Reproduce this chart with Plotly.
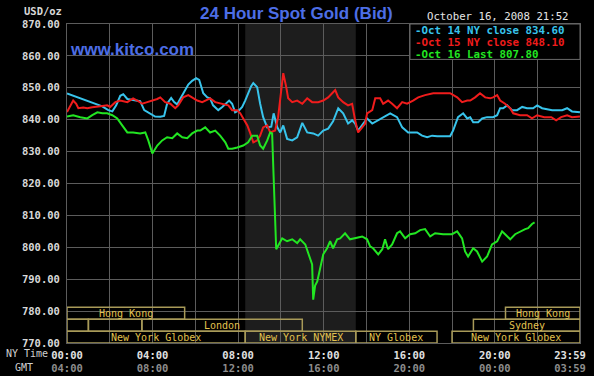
import plotly.graph_objects as go

# ---------------- data (hours after NY midnight, USD/oz) ----------------
oct14_hours = [0.00,0.25,0.53,0.81,1.09,1.37,1.65,1.93,2.12,2.30,2.49,2.63,2.82,3.09,3.42,3.61,3.89,4.12,4.36,4.54,4.68,4.87,5.01,5.15,5.29,5.48,5.67,5.85,6.04,6.18,6.37,6.56,6.69,6.83,7.07,7.26,7.44,7.58,7.72,7.86,8.05,8.19,8.33,8.47,8.61,8.71,8.89,9.03,9.17,9.36,9.55,9.66,9.83,9.97,10.11,10.29,10.53,10.76,11.00,11.23,11.51,11.74,11.98,12.21,12.44,12.68,12.91,13.14,13.33,13.47,13.61,13.85,14.03,14.27,14.55,14.78,15.11,15.43,15.67,15.95,16.37,16.60,16.84,17.07,17.31,17.91,18.05,18.28,18.52,18.71,18.85,18.99,19.22,19.41,19.64,19.92,20.11,20.25,20.39,20.58,20.81,21.04,21.28,21.51,21.79,21.98,22.21,22.68,23.15,23.38,23.61,23.98]
oct14_price = [848.2,847.6,847.0,846.3,845.6,845.0,844.2,843.0,842.6,844.5,847.5,848.0,846.5,846.2,845.8,843.0,841.8,841.0,840.9,841.2,845.0,846.8,845.5,844.8,846.5,849.0,851.0,852.2,853.0,852.5,848.3,847.0,846.7,844.5,843.0,844.0,845.0,846.0,845.0,842.3,843.0,844.0,846.0,848.3,850.5,851.5,850.2,845.0,840.8,837.6,837.8,842.0,837.6,836.0,838.2,834.0,833.5,834.5,839.0,836.0,835.7,835.0,836.6,837.2,839.5,843.6,842.0,838.8,839.8,838.8,836.6,838.8,840.4,838.8,839.8,840.8,842.0,840.8,837.6,836.0,836.0,835.0,834.5,835.0,834.8,834.8,836.6,840.8,842.0,840.4,840.8,839.2,839.2,840.4,840.8,840.8,841.4,843.6,843.6,844.5,843.0,843.0,844.0,843.6,843.6,844.5,843.6,843.0,843.0,843.6,842.6,842.3]

oct15_hours = [0.00,0.15,0.29,0.43,0.53,0.76,0.95,1.18,1.42,1.65,1.88,2.02,2.26,2.49,2.82,3.09,3.33,3.52,3.75,4.03,4.22,4.36,4.59,4.83,5.06,5.20,5.43,5.67,5.90,6.09,6.32,6.51,6.69,6.93,7.26,7.54,7.72,7.96,8.10,8.24,8.43,8.57,8.71,8.89,9.03,9.17,9.36,9.50,9.73,9.87,10.01,10.11,10.25,10.34,10.53,10.76,11.00,11.23,11.46,11.74,11.98,12.21,12.44,12.54,12.68,12.91,13.14,13.33,13.47,13.61,13.80,13.94,14.03,14.27,14.41,14.64,14.78,15.01,15.20,15.43,15.67,15.90,16.18,16.42,16.74,17.12,17.44,17.91,18.24,18.47,18.71,18.85,19.08,19.31,19.55,19.78,19.92,20.11,20.25,20.48,20.72,20.86,21.18,21.51,21.74,21.98,22.31,22.64,22.87,23.10,23.38,23.61,23.98]
oct15_price = [842.4,844.5,846.0,845.0,843.6,843.8,843.6,843.9,844.0,844.3,844.5,844.0,845.5,846.0,845.5,846.7,845.8,845.0,845.5,846.0,846.5,847.0,845.5,845.0,843.6,844.5,847.0,847.7,846.7,846.0,845.5,846.2,846.7,845.5,845.0,844.5,843.0,843.0,842.0,840.4,838.2,835.7,832.9,833.5,835.0,837.6,838.2,836.0,836.6,840.8,848.3,854.6,850.2,846.7,845.5,846.0,845.0,846.7,845.5,845.5,846.0,847.0,848.6,849.3,847.0,845.5,844.5,845.0,839.8,836.0,837.6,838.8,842.0,843.0,846.7,846.7,845.0,846.0,845.0,843.6,845.5,845.0,846.0,847.0,847.7,848.3,848.3,848.3,847.0,845.5,846.0,846.0,847.0,848.3,847.0,846.7,847.0,847.7,846.0,845.0,843.6,842.0,841.4,841.4,840.4,841.4,840.8,840.8,839.8,840.8,841.4,840.8,841.0]

oct16_hours = [0.00,0.29,0.62,0.95,1.18,1.42,1.65,1.88,2.12,2.35,2.58,2.82,3.09,3.42,3.66,3.80,3.99,4.22,4.45,4.68,4.92,5.15,5.39,5.62,5.85,6.09,6.23,6.46,6.69,6.93,7.16,7.40,7.54,7.72,7.96,8.24,8.47,8.66,8.89,9.03,9.17,9.36,9.50,9.59,9.65,9.70,9.78,9.87,10.06,10.29,10.53,10.76,10.90,11.14,11.28,11.46,11.51,11.60,11.70,11.84,11.98,12.16,12.30,12.44,12.63,12.77,13.00,13.23,13.47,13.80,14.03,14.17,14.31,14.55,14.74,14.87,15.01,15.20,15.43,15.57,15.81,16.04,16.28,16.51,16.74,16.98,17.21,17.58,18.00,18.24,18.47,18.61,18.75,18.99,19.17,19.41,19.64,19.87,20.11,20.34,20.48,20.72,20.95,21.18,21.42,21.56,21.74,21.86]
oct16_price = [841.0,841.4,840.8,840.4,841.4,842.3,842.0,842.0,841.4,840.4,838.2,836.0,836.0,835.7,836.0,833.5,829.4,831.9,833.5,834.5,834.2,835.7,834.5,834.2,835.7,836.6,836.6,837.6,836.0,836.6,835.0,832.9,830.9,830.9,831.3,831.9,832.9,835.0,835.0,831.9,830.9,833.5,836.0,835.7,824.0,811.6,799.4,800.5,802.8,801.9,802.5,801.3,802.5,800.9,797.8,794.6,783.6,788.0,789.3,793.4,797.8,799.7,801.9,799.7,802.5,802.8,804.4,802.5,802.8,803.4,802.5,800.3,799.7,797.8,799.4,802.5,799.4,800.9,804.4,805.0,802.8,804.1,804.4,805.4,805.7,803.4,804.4,804.1,804.1,805.0,802.8,798.7,797.1,799.7,798.7,795.5,797.1,800.9,801.9,805.0,804.1,802.5,804.1,805.0,805.7,806.0,807.3,807.8]

series_names = ["Oct 14 NY close 834.60", "Oct 15 NY close 848.10", "Oct 16 Last 807.80"]

price_ticks = [770, 780, 790, 800, 810, 820, 830, 840, 850, 860, 870]
grid_hours = [0, 2, 4, 6, 8, 10, 12, 14, 16, 18, 20, 22, 23.983]
ny_time_ticks = [0, 4, 8, 12, 16, 20, 23.983]
ny_time_labels = ["00:00", "04:00", "08:00", "12:00", "16:00", "20:00", "23:59"]
gmt_labels = ["04:00", "08:00", "12:00", "16:00", "20:00", "00:00", "03:59"]

# trading sessions: (row, start hour, end hour, label)
sessions = [
    (0, 0.0, 5.5, "Hong Kong"),
    (0, 20.5, 23.983, "Hong Kong"),
    (1, 0.0, 1.0, ""),
    (1, 1.0, 3.5, ""),
    (1, 3.5, 11.0, "London"),
    (1, 19.0, 23.983, "Sydney"),
    (2, 0.0, 8.333, "New York Globex"),
    (2, 8.333, 13.5, "New York NYMEX"),
    (2, 13.5, 17.3, "NY Globex"),
    (2, 18.0, 23.983, "New York Globex"),
]
nymex_open, nymex_close = 8.333, 13.5

# ---------------- styling ----------------
colors = ["#38c4ec", "#f01c1c", "#22e622"]
grid_col = "#5c5c5c"
mono = "DejaVu Sans Mono"
box_col = "#a89a58"
box_text = "#e2c24e"

fig = go.Figure()
for hrs, vals, name, col in zip([oct14_hours, oct15_hours, oct16_hours],
                                [oct14_price, oct15_price, oct16_price],
                                series_names, colors):
    fig.add_trace(go.Scatter(x=hrs, y=vals, mode="lines", name=name,
                             line=dict(color=col, width=2), showlegend=False,
                             hoverinfo="skip"))

shapes = []
# NYMEX shading
shapes.append(dict(type="rect", xref="x", yref="paper", x0=nymex_open, x1=nymex_close,
                   y0=0, y1=1, fillcolor="#1d1d1d", line=dict(width=0), layer="below"))
# session boxes
row_edges = [(777.45, 781.2), (773.7, 777.45), (770.0, 773.7)]
annotations = []
for row, s, e, lab in sessions:
    y0, y1 = row_edges[row]
    shapes.append(dict(type="rect", xref="x", yref="y", x0=s, x1=e, y0=y0, y1=y1,
                       line=dict(color=box_col, width=1.5), fillcolor="rgba(0,0,0,0)",
                       layer="above"))
    if lab:
        annotations.append(dict(x=(s + e) / 2, y=(y0 + y1) / 2, xref="x", yref="y",
                                xanchor="center", yanchor="middle",
                                text=lab, showarrow=False,
                                font=dict(family=mono, size=10, color=box_text)))

# legend box
shapes.append(dict(type="rect", xref="paper", yref="paper", x0=0.6686, x1=1.0,
                   y0=0.889, y1=1.0, fillcolor="black",
                   line=dict(color="#6a6a6a", width=1), layer="above"))
for i, (name, col) in enumerate(zip(series_names, colors)):
    annotations.append(dict(x=0.6765, y=1, xref="paper", yref="paper",
                            xanchor="left", yanchor="middle", yshift=-6.5 - 11.8 * i,
                            text="-" + name, showarrow=False, borderpad=0,
                            font=dict(family=mono, size=10.8, color=col, weight="bold")))

# titles and labels
annotations += [
    dict(x=0.4464, y=1, xref="paper", yref="paper", yshift=11, xanchor="center",
         yanchor="middle", text="24 Hour Spot Gold (Bid)", showarrow=False,
         font=dict(family="Liberation Sans, Arial", size=17, color="#4d6ee6", weight="bold")),
    dict(x=0.841, y=1, xref="paper", yref="paper", yshift=8, xanchor="center",
         yanchor="middle", text="October 16, 2008 21:52", showarrow=False,
         font=dict(family=mono, size=10.7, color="#e6e6e6")),
    dict(x=0.002, y=1, xref="paper", yref="paper", yshift=-25, xanchor="left",
         yanchor="middle", text="www.kitco.com", showarrow=False,
         font=dict(family="Liberation Sans, Arial", size=17, color="#4d6ee6", weight="bold")),
    dict(x=0, y=1, xref="paper", yref="paper", xshift=-24, yshift=13, xanchor="center",
         yanchor="middle", text="USD/oz", showarrow=False,
         font=dict(family=mono, size=10.5, color="#d8d8d8", weight="bold")),
    dict(x=0, y=0, xref="paper", yref="paper", xshift=-17, yshift=-10, xanchor="right",
         yanchor="middle", text="NY Time", showarrow=False,
         font=dict(family=mono, size=10, color="#d0d0d0")),
    dict(x=0, y=0, xref="paper", yref="paper", xshift=-43, yshift=-24, xanchor="center",
         yanchor="middle", text="GMT", showarrow=False,
         font=dict(family=mono, size=10, color="#d0d0d0")),
]

tick_text = [f"{a}<br><span style='color:#8c8c8c'>{b}</span>"
             for a, b in zip(ny_time_labels, gmt_labels)]

fig.update_layout(
    width=594, height=376,
    margin=dict(l=67, r=14, t=24, b=33, autoexpand=False),
    paper_bgcolor="black", plot_bgcolor="black",
    shapes=shapes, annotations=annotations,
    xaxis=dict(range=[0, 23.983], tickvals=ny_time_ticks, ticktext=tick_text,
               automargin=False, ticklabeloverflow="allow",
               showgrid=False, zeroline=False,
               showline=True, linecolor=grid_col, linewidth=1, mirror=True,
               ticks="", ticklabelstandoff=2,
               tickfont=dict(family=mono, size=10.5, color="#e0e0e0", weight="bold"),
               minor=dict(tickvals=grid_hours, showgrid=True,
                          gridcolor=grid_col, gridwidth=1)),
    yaxis=dict(range=[770, 870], tickvals=price_ticks,
               ticktext=[f"{v:.2f}" for v in price_ticks],
               automargin=False,
               showgrid=True, gridcolor=grid_col, gridwidth=1, zeroline=False,
               showline=True, linecolor=grid_col, linewidth=1, mirror=True,
               ticks="", ticklabelstandoff=4,
               tickfont=dict(family=mono, size=10.5, color="#d8d8d8", weight="bold")),
)

# nudge the last (23:59) label inward so it stays inside the picture, as in the reference
post = """
document.body.style.margin='0';
document.body.style.background='black';
var gd = document.querySelector('.plotly-graph-div');
function shiftLast(){
  var texts = Array.prototype.slice.call(gd.querySelectorAll('.xtick text'));
  texts.forEach(function(t){
    if (t.textContent.indexOf('23:59') === 0) {
      var tr = t.getAttribute('transform') || '';
      if (tr.indexOf('translate(-10,0)') < 0) {
        t.setAttribute('transform', (tr + ' translate(-10,0)').trim());
      }
    }
  });
}
shiftLast();
gd.on('plotly_afterplot', shiftLast);
"""
fig.write_html("out.html", post_script=post, config={"displayModeBar": False})
